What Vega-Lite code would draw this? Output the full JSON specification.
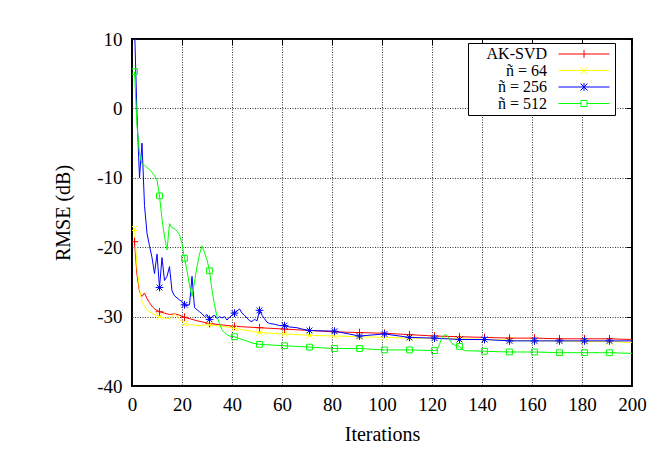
{
  "$schema": "https://vega.github.io/schema/vega-lite/v6.json",
  "width": 500,
  "height": 347,
  "autosize": {"type": "none"},
  "padding": {"left": 132, "top": 39, "right": 38, "bottom": 69},
  "background": "white",
  "config": {
    "view": {"stroke": "#000", "strokeWidth": 2},
    "font": "Liberation Serif",
    "axis": {
      "labelFont": "Liberation Serif",
      "titleFont": "Liberation Serif",
      "labelFontSize": 19,
      "titleFontSize": 20,
      "titleFontWeight": "normal",
      "labelColor": "#000",
      "titleColor": "#000",
      "labelFlush": false,
      "domain": false,
      "tickColor": "#000",
      "gridColor": "#222",
      "gridDash": [1, 1.5],
      "gridOpacity": 0.9,
      "gridWidth": 1
    },
    "legend": {
      "strokeColor": "#000", "fillColor": "#fff", "padding": 3,
      "labelFont": "Liberation Serif", "labelFontSize": 16, "labelColor": "#000",
      "symbolSize": 100, "rowPadding": 0.5, "labelOffset": 54
    }
  },
  "datasets": {
    "rmse": [
      {"s": "AK-SVD", "it": 1, "v": -19.2}, {"s": "AK-SVD", "it": 2, "v": -24}, {"s": "AK-SVD", "it": 3, "v": -26.4}, {"s": "AK-SVD", "it": 4, "v": -27.1}, {"s": "AK-SVD", "it": 5, "v": -26.6}, {"s": "AK-SVD", "it": 6, "v": -27.4}, {"s": "AK-SVD", "it": 7, "v": -28.0}, {"s": "AK-SVD", "it": 8, "v": -28.5}, {"s": "AK-SVD", "it": 9, "v": -28.9}, {"s": "AK-SVD", "it": 11, "v": -29.3}, {"s": "AK-SVD", "it": 13, "v": -29.5}, {"s": "AK-SVD", "it": 15, "v": -29.7}, {"s": "AK-SVD", "it": 17, "v": -29.6}, {"s": "AK-SVD", "it": 19, "v": -29.8}, {"s": "AK-SVD", "it": 21, "v": -30.1}, {"s": "AK-SVD", "it": 26, "v": -30.6}, {"s": "AK-SVD", "it": 31, "v": -31.0}, {"s": "AK-SVD", "it": 36, "v": -31.2}, {"s": "AK-SVD", "it": 41, "v": -31.4}, {"s": "AK-SVD", "it": 51, "v": -31.6}, {"s": "AK-SVD", "it": 61, "v": -31.8}, {"s": "AK-SVD", "it": 71, "v": -32.0}, {"s": "AK-SVD", "it": 81, "v": -32.2}, {"s": "AK-SVD", "it": 91, "v": -32.3}, {"s": "AK-SVD", "it": 101, "v": -32.4}, {"s": "AK-SVD", "it": 111, "v": -32.6}, {"s": "AK-SVD", "it": 121, "v": -32.8}, {"s": "AK-SVD", "it": 131, "v": -32.9}, {"s": "AK-SVD", "it": 141, "v": -33.0}, {"s": "AK-SVD", "it": 151, "v": -33.1}, {"s": "AK-SVD", "it": 161, "v": -33.1}, {"s": "AK-SVD", "it": 171, "v": -33.2}, {"s": "AK-SVD", "it": 181, "v": -33.2}, {"s": "AK-SVD", "it": 191, "v": -33.2}, {"s": "AK-SVD", "it": 200, "v": -33.3},

      {"s": "ñ = 64", "it": 1, "v": -17.3}, {"s": "ñ = 64", "it": 2, "v": -23}, {"s": "ñ = 64", "it": 3, "v": -26}, {"s": "ñ = 64", "it": 4, "v": -27.8}, {"s": "ñ = 64", "it": 5, "v": -28.5}, {"s": "ñ = 64", "it": 6, "v": -29}, {"s": "ñ = 64", "it": 7, "v": -29.3}, {"s": "ñ = 64", "it": 8, "v": -29.5}, {"s": "ñ = 64", "it": 9, "v": -29.7}, {"s": "ñ = 64", "it": 11, "v": -30.0}, {"s": "ñ = 64", "it": 13, "v": -30.2}, {"s": "ñ = 64", "it": 15, "v": -30.3}, {"s": "ñ = 64", "it": 16, "v": -30.0}, {"s": "ñ = 64", "it": 17, "v": -29.6}, {"s": "ñ = 64", "it": 18, "v": -29.9}, {"s": "ñ = 64", "it": 19, "v": -30.4}, {"s": "ñ = 64", "it": 21, "v": -31.0}, {"s": "ñ = 64", "it": 24, "v": -31.2}, {"s": "ñ = 64", "it": 27, "v": -31.3}, {"s": "ñ = 64", "it": 29, "v": -31.2}, {"s": "ñ = 64", "it": 31, "v": -31.2}, {"s": "ñ = 64", "it": 36, "v": -31.4}, {"s": "ñ = 64", "it": 41, "v": -31.7}, {"s": "ñ = 64", "it": 46, "v": -32.0}, {"s": "ñ = 64", "it": 51, "v": -32.3}, {"s": "ñ = 64", "it": 61, "v": -32.5}, {"s": "ñ = 64", "it": 71, "v": -32.7}, {"s": "ñ = 64", "it": 81, "v": -32.8}, {"s": "ñ = 64", "it": 91, "v": -32.9}, {"s": "ñ = 64", "it": 101, "v": -33.0}, {"s": "ñ = 64", "it": 111, "v": -33.1}, {"s": "ñ = 64", "it": 121, "v": -33.1}, {"s": "ñ = 64", "it": 131, "v": -33.2}, {"s": "ñ = 64", "it": 141, "v": -33.3}, {"s": "ñ = 64", "it": 151, "v": -33.4}, {"s": "ñ = 64", "it": 161, "v": -33.5}, {"s": "ñ = 64", "it": 171, "v": -33.5}, {"s": "ñ = 64", "it": 181, "v": -33.6}, {"s": "ñ = 64", "it": 191, "v": -33.6}, {"s": "ñ = 64", "it": 200, "v": -33.7},

      {"s": "ñ = 256", "it": 1, "v": 12}, {"s": "ñ = 256", "it": 2, "v": -1}, {"s": "ñ = 256", "it": 3, "v": -10}, {"s": "ñ = 256", "it": 4, "v": -5}, {"s": "ñ = 256", "it": 5, "v": -14}, {"s": "ñ = 256", "it": 6, "v": -18}, {"s": "ñ = 256", "it": 7, "v": -19.8}, {"s": "ñ = 256", "it": 8, "v": -21.5}, {"s": "ñ = 256", "it": 9, "v": -23.8}, {"s": "ñ = 256", "it": 10, "v": -21}, {"s": "ñ = 256", "it": 11, "v": -25.8}, {"s": "ñ = 256", "it": 12, "v": -21.5}, {"s": "ñ = 256", "it": 13, "v": -24.8}, {"s": "ñ = 256", "it": 14, "v": -24.2}, {"s": "ñ = 256", "it": 15, "v": -22.8}, {"s": "ñ = 256", "it": 16, "v": -26.3}, {"s": "ñ = 256", "it": 17, "v": -27}, {"s": "ñ = 256", "it": 18, "v": -27.3}, {"s": "ñ = 256", "it": 19, "v": -27.6}, {"s": "ñ = 256", "it": 20, "v": -27.8}, {"s": "ñ = 256", "it": 21, "v": -28.3}, {"s": "ñ = 256", "it": 22, "v": -28.4}, {"s": "ñ = 256", "it": 23, "v": -28.3}, {"s": "ñ = 256", "it": 24, "v": -24.2}, {"s": "ñ = 256", "it": 25, "v": -28.7}, {"s": "ñ = 256", "it": 26, "v": -29}, {"s": "ñ = 256", "it": 27, "v": -29.3}, {"s": "ñ = 256", "it": 28, "v": -29.6}, {"s": "ñ = 256", "it": 29, "v": -30.0}, {"s": "ñ = 256", "it": 30, "v": -29.7}, {"s": "ñ = 256", "it": 31, "v": -30.4}, {"s": "ñ = 256", "it": 32, "v": -30.0}, {"s": "ñ = 256", "it": 33, "v": -29.8}, {"s": "ñ = 256", "it": 34, "v": -30.3}, {"s": "ñ = 256", "it": 35, "v": -30.0}, {"s": "ñ = 256", "it": 36, "v": -30.2}, {"s": "ñ = 256", "it": 37, "v": -30.0}, {"s": "ñ = 256", "it": 38, "v": -30.5}, {"s": "ñ = 256", "it": 39, "v": -30.1}, {"s": "ñ = 256", "it": 40, "v": -29.8}, {"s": "ñ = 256", "it": 41, "v": -29.5}, {"s": "ñ = 256", "it": 42, "v": -29.2}, {"s": "ñ = 256", "it": 43, "v": -28.9}, {"s": "ñ = 256", "it": 44, "v": -29.5}, {"s": "ñ = 256", "it": 45, "v": -29.8}, {"s": "ñ = 256", "it": 46, "v": -30.2}, {"s": "ñ = 256", "it": 47, "v": -30.6}, {"s": "ñ = 256", "it": 48, "v": -30.7}, {"s": "ñ = 256", "it": 49, "v": -30.4}, {"s": "ñ = 256", "it": 50, "v": -30.6}, {"s": "ñ = 256", "it": 51, "v": -29.1}, {"s": "ñ = 256", "it": 52, "v": -29.8}, {"s": "ñ = 256", "it": 53, "v": -30.3}, {"s": "ñ = 256", "it": 54, "v": -30.8}, {"s": "ñ = 256", "it": 55, "v": -31.0}, {"s": "ñ = 256", "it": 57, "v": -31.1}, {"s": "ñ = 256", "it": 59, "v": -31.3}, {"s": "ñ = 256", "it": 61, "v": -31.3}, {"s": "ñ = 256", "it": 63, "v": -31.5}, {"s": "ñ = 256", "it": 66, "v": -31.6}, {"s": "ñ = 256", "it": 68, "v": -31.8}, {"s": "ñ = 256", "it": 71, "v": -32.0}, {"s": "ñ = 256", "it": 81, "v": -32.1}, {"s": "ñ = 256", "it": 91, "v": -32.8}, {"s": "ñ = 256", "it": 101, "v": -32.5}, {"s": "ñ = 256", "it": 111, "v": -33.0}, {"s": "ñ = 256", "it": 121, "v": -33.1}, {"s": "ñ = 256", "it": 131, "v": -33.3}, {"s": "ñ = 256", "it": 141, "v": -33.3}, {"s": "ñ = 256", "it": 151, "v": -33.5}, {"s": "ñ = 256", "it": 161, "v": -33.5}, {"s": "ñ = 256", "it": 171, "v": -33.5}, {"s": "ñ = 256", "it": 181, "v": -33.5}, {"s": "ñ = 256", "it": 191, "v": -33.5}, {"s": "ñ = 256", "it": 200, "v": -33.5},

      {"s": "ñ = 512", "it": 1, "v": 5.3}, {"s": "ñ = 512", "it": 2, "v": -2.5}, {"s": "ñ = 512", "it": 3, "v": -6.5}, {"s": "ñ = 512", "it": 4, "v": -8.0}, {"s": "ñ = 512", "it": 5, "v": -8.2}, {"s": "ñ = 512", "it": 6, "v": -8.5}, {"s": "ñ = 512", "it": 7, "v": -8.8}, {"s": "ñ = 512", "it": 8, "v": -9.2}, {"s": "ñ = 512", "it": 9, "v": -9.7}, {"s": "ñ = 512", "it": 10, "v": -10.3}, {"s": "ñ = 512", "it": 11, "v": -12.6}, {"s": "ñ = 512", "it": 12, "v": -16}, {"s": "ñ = 512", "it": 13, "v": -18.5}, {"s": "ñ = 512", "it": 14, "v": -20.4}, {"s": "ñ = 512", "it": 15, "v": -16.6}, {"s": "ñ = 512", "it": 16, "v": -17.2}, {"s": "ñ = 512", "it": 17, "v": -17.3}, {"s": "ñ = 512", "it": 18, "v": -17.7}, {"s": "ñ = 512", "it": 19, "v": -18.2}, {"s": "ñ = 512", "it": 20, "v": -19.5}, {"s": "ñ = 512", "it": 21, "v": -21.6}, {"s": "ñ = 512", "it": 22, "v": -23.4}, {"s": "ñ = 512", "it": 23, "v": -25.5}, {"s": "ñ = 512", "it": 24, "v": -27.1}, {"s": "ñ = 512", "it": 25, "v": -25}, {"s": "ñ = 512", "it": 26, "v": -22.8}, {"s": "ñ = 512", "it": 27, "v": -21}, {"s": "ñ = 512", "it": 28, "v": -19.8}, {"s": "ñ = 512", "it": 29, "v": -20.8}, {"s": "ñ = 512", "it": 30, "v": -21.8}, {"s": "ñ = 512", "it": 31, "v": -23.4}, {"s": "ñ = 512", "it": 32, "v": -26.2}, {"s": "ñ = 512", "it": 33, "v": -28.3}, {"s": "ñ = 512", "it": 34, "v": -30.0}, {"s": "ñ = 512", "it": 35, "v": -31.0}, {"s": "ñ = 512", "it": 36, "v": -31.9}, {"s": "ñ = 512", "it": 37, "v": -32.3}, {"s": "ñ = 512", "it": 38, "v": -32.6}, {"s": "ñ = 512", "it": 39, "v": -32.8}, {"s": "ñ = 512", "it": 41, "v": -32.9}, {"s": "ñ = 512", "it": 43, "v": -33.2}, {"s": "ñ = 512", "it": 45, "v": -33.4}, {"s": "ñ = 512", "it": 48, "v": -33.8}, {"s": "ñ = 512", "it": 51, "v": -34.0}, {"s": "ñ = 512", "it": 56, "v": -34.1}, {"s": "ñ = 512", "it": 61, "v": -34.2}, {"s": "ñ = 512", "it": 71, "v": -34.4}, {"s": "ñ = 512", "it": 81, "v": -34.6}, {"s": "ñ = 512", "it": 91, "v": -34.6}, {"s": "ñ = 512", "it": 101, "v": -34.8}, {"s": "ñ = 512", "it": 111, "v": -34.8}, {"s": "ñ = 512", "it": 121, "v": -34.9}, {"s": "ñ = 512", "it": 122, "v": -34.8}, {"s": "ñ = 512", "it": 123, "v": -34.0}, {"s": "ñ = 512", "it": 124, "v": -33.0}, {"s": "ñ = 512", "it": 125, "v": -32.6}, {"s": "ñ = 512", "it": 126, "v": -32.7}, {"s": "ñ = 512", "it": 127, "v": -33.3}, {"s": "ñ = 512", "it": 128, "v": -33.9}, {"s": "ñ = 512", "it": 129, "v": -34.1}, {"s": "ñ = 512", "it": 131, "v": -34.3}, {"s": "ñ = 512", "it": 132, "v": -34.7}, {"s": "ñ = 512", "it": 133, "v": -34.9}, {"s": "ñ = 512", "it": 141, "v": -35.0}, {"s": "ñ = 512", "it": 151, "v": -35.1}, {"s": "ñ = 512", "it": 161, "v": -35.1}, {"s": "ñ = 512", "it": 171, "v": -35.2}, {"s": "ñ = 512", "it": 181, "v": -35.2}, {"s": "ñ = 512", "it": 191, "v": -35.2}, {"s": "ñ = 512", "it": 200, "v": -35.3}
    ]
  },
  "data": {"name": "rmse"},
  "resolve": {"axis": {"x": "independent", "y": "independent"}},
  "layer": [
    {
      "mark": {"type": "line", "strokeWidth": 1, "clip": true},
      "encoding": {
        "x": {"field": "it", "type": "quantitative", "scale": {"domain": [0, 200], "nice": false},
              "axis": {"title": "Iterations", "values": [0, 20, 40, 60, 80, 100, 120, 140, 160, 180, 200], "tickSize": 0, "labelPadding": 9, "titlePadding": 10, "grid": true}},
        "y": {"field": "v", "type": "quantitative", "scale": {"domain": [-40, 10], "nice": false},
              "axis": {"title": "RMSE (dB)", "values": [-40, -30, -20, -10, 0, 10], "tickSize": 0, "labelPadding": 10, "titlePadding": 23, "grid": true, "labelExpr": "'' + datum.value"}},
        "color": {"field": "s", "type": "nominal",
                  "scale": {"domain": ["AK-SVD", "ñ = 64", "ñ = 256", "ñ = 512"], "range": ["#ff0000", "#ffff00", "#0000ff", "#00ff00"]},
                  "legend": {
                    "title": null, "orient": "none", "legendX": 336, "legendY": 4,
                    "encode": {
                      "labels": {"update": {"x": {"value": 76}, "align": {"value": "right"}}},
                      "symbols": {"update": {
                        "x": {"value": 113},
                        "size": {"value": 100},
                        "strokeWidth": {"value": 1},
                        "shape": {"signal": "['M-5.1,0H5.1M0,-0.8V0.8', 'M-5.1,0H5.1M-0.7,-0.7L0.7,0.7M-0.7,0.7L0.7,-0.7', 'M-5.1,0H5.1M0,-0.8V0.8M-0.7,-0.7L0.7,0.7M-0.7,0.7L0.7,-0.7', 'M-5.1,0H-0.6M0.6,0H5.1M-0.6,-0.6H0.6V0.6H-0.6Z'][datum.index]"}
                      }}
                    }
                  }},
        "order": {"field": "it", "type": "quantitative"}
      }
    },
    {
      "transform": [{"filter": "datum.s == 'AK-SVD' && datum.it % 10 == 1"}],
      "mark": {"type": "point", "filled": false, "strokeWidth": 1, "size": 60, "opacity": 1, "clip": true, "color": "#ff0000", "shape": "M-1,0H1M0,-1V1"},
      "encoding": {
        "x": {"field": "it", "type": "quantitative",
              "axis": {"orient": "top", "title": null, "labels": false, "grid": false, "values": [0, 20, 40, 60, 80, 100, 120, 140, 160, 180, 200], "tickSize": -6, "tickWidth": 1}},
        "y": {"field": "v", "type": "quantitative",
              "axis": {"orient": "right", "title": null, "labels": false, "grid": false, "values": [-40, -30, -20, -10, 0, 10], "tickSize": -6, "tickWidth": 1}}
      }
    },
    {
      "transform": [{"filter": "datum.s == 'ñ = 64' && datum.it % 10 == 1"}],
      "mark": {"type": "point", "filled": false, "strokeWidth": 1, "size": 60, "opacity": 1, "clip": true, "color": "#ffff00", "shape": "M-0.8,-0.8L0.8,0.8M-0.8,0.8L0.8,-0.8"},
      "encoding": {
        "x": {"field": "it", "type": "quantitative", "axis": null},
        "y": {"field": "v", "type": "quantitative", "axis": null}
      }
    },
    {
      "transform": [{"filter": "datum.s == 'ñ = 256' && datum.it % 10 == 1"}],
      "mark": {"type": "point", "filled": false, "strokeWidth": 1, "size": 60, "opacity": 1, "clip": true, "color": "#0000ff", "shape": "M-1,0H1M0,-1V1M-0.75,-0.75L0.75,0.75M-0.75,0.75L0.75,-0.75"},
      "encoding": {
        "x": {"field": "it", "type": "quantitative", "axis": null},
        "y": {"field": "v", "type": "quantitative", "axis": null}
      }
    },
    {
      "transform": [{"filter": "datum.s == 'ñ = 512' && datum.it % 10 == 1"}],
      "mark": {"type": "point", "filled": false, "strokeWidth": 1, "size": 60, "opacity": 1, "clip": true, "color": "#00ff00", "shape": "M-0.75,-0.75H0.75V0.75H-0.75Z"},
      "encoding": {
        "x": {"field": "it", "type": "quantitative", "axis": null},
        "y": {"field": "v", "type": "quantitative", "axis": null}
      }
    }
  ]
}
